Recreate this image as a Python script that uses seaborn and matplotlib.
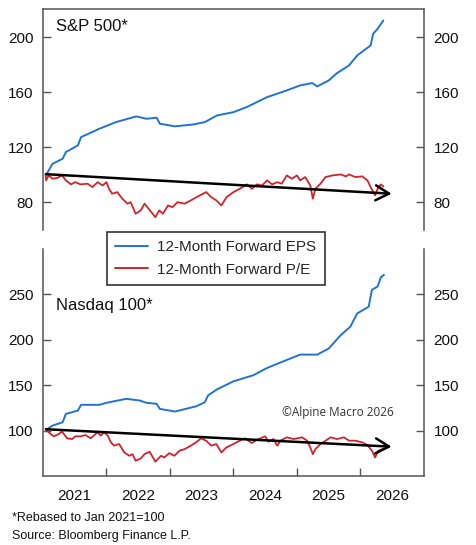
import matplotlib
matplotlib.use("Agg")
import matplotlib.pyplot as plt
from matplotlib.lines import Line2D
import seaborn as sns
import pandas as pd

sns.set_theme(style="white")
plt.rcParams["font.family"] = ["Liberation Sans", "DejaVu Sans"]

BLUE = "#1f74d2"
RED = "#d1232a"
SPINE = "#555555"

years = [2021, 2022, 2023, 2024, 2025, 2026]

# S&P 500, rebased to Jan 2021 = 100 (time in decimal years)
spx_eps_t = [2021.05, 2021.15, 2021.31, 2021.36, 2021.55, 2021.60, 2021.89, 2022.15, 2022.47, 2022.63,
             2022.79, 2022.84, 2023.08, 2023.37, 2023.55, 2023.74, 2024.00, 2024.21, 2024.53, 2024.84,
             2025.05, 2025.24, 2025.32, 2025.50, 2025.63, 2025.82, 2025.95, 2026.16, 2026.20, 2026.27,
             2026.36]
spx_eps = [100, 108, 111.7, 116.5, 121.4, 127.4, 133.5, 138.3, 142.4, 140.7,
           141.5, 137.1, 135.2, 136.6, 138.3, 143.1, 145.5, 149.2, 156.4, 161.3,
           164.9, 166.6, 164.2, 168.5, 173.8, 179.4, 186.7, 193.9, 202.4, 206,
           212]

spx_pe_t = [2021.04, 2021.05, 2021.09, 2021.15, 2021.22, 2021.30, 2021.36, 2021.44, 2021.51, 2021.59,
            2021.70, 2021.78, 2021.86, 2021.94, 2022.00, 2022.04, 2022.09, 2022.17, 2022.25, 2022.33,
            2022.38, 2022.46, 2022.54, 2022.60, 2022.68, 2022.77, 2022.83, 2022.89, 2022.97, 2023.04,
            2023.12, 2023.23, 2023.33, 2023.47, 2023.57, 2023.65, 2023.73, 2023.81, 2023.89, 2024.00,
            2024.10, 2024.21, 2024.29, 2024.37, 2024.45, 2024.53, 2024.61, 2024.69, 2024.76, 2024.84,
            2024.92, 2025.00, 2025.05, 2025.13, 2025.21, 2025.25, 2025.29, 2025.37, 2025.45, 2025.56,
            2025.69, 2025.77, 2025.82, 2025.92, 2026.03, 2026.11, 2026.16, 2026.23, 2026.27, 2026.32,
            2026.36]
spx_pe = [100.8, 96, 99.6, 97.2, 97.7, 99.6, 96, 93.1, 94.7, 93.1,
          93.6, 91.1, 94.7, 92.3, 94.7, 89.9, 86.3, 87.5, 82.7, 79.1,
          80.2, 71.8, 74.2, 79.1, 74.5, 69.3, 74.2, 71.8, 77.8, 76.6,
          80.2, 79.1, 81.5, 85.1, 87.5, 83.8, 81.5, 77.8, 83.8, 87.5,
          89.9, 93.1, 89.9, 93.1, 92.3, 96, 93.1, 94.7, 93.6, 99.6,
          97.2, 99.6, 96, 98.4, 92.3, 82.7, 89.9, 93.6, 98.4, 99.6,
          100.3, 98.9, 100.3, 98.4, 98.9, 96, 91.1, 85.1, 89.9, 93.1,
          91.6]

# Nasdaq 100, rebased to Jan 2021 = 100
ndx_eps_t = [2021.05, 2021.15, 2021.31, 2021.36, 2021.55, 2021.60, 2021.89, 2022.00, 2022.31, 2022.52,
             2022.63, 2022.79, 2022.84, 2023.08, 2023.42, 2023.55, 2023.60, 2023.74, 2024.00, 2024.31,
             2024.53, 2024.79, 2025.05, 2025.32, 2025.50, 2025.69, 2025.84, 2025.95, 2026.13, 2026.18,
             2026.27, 2026.32, 2026.37]
ndx_eps = [101, 105.5, 109.2, 118.4, 122.1, 128.4, 128.4, 130.6, 135, 133.2,
           130.6, 129.5, 123.9, 121, 126.9, 131.3, 138.8, 145.4, 154.3, 160.9,
           169, 176.4, 183.7, 183.7, 190.4, 205.2, 214.4, 229.1, 236.5, 255,
           258.7, 268.7, 271.6]

ndx_pe_t = [2021.04, 2021.09, 2021.17, 2021.25, 2021.30, 2021.38, 2021.46, 2021.51, 2021.59, 2021.67,
            2021.75, 2021.86, 2021.91, 2021.96, 2022.02, 2022.07, 2022.12, 2022.20, 2022.28, 2022.36,
            2022.41, 2022.46, 2022.54, 2022.60, 2022.68, 2022.77, 2022.86, 2022.91, 2022.99, 2023.07,
            2023.15, 2023.23, 2023.31, 2023.41, 2023.49, 2023.57, 2023.65, 2023.73, 2023.81, 2023.89,
            2024.00, 2024.10, 2024.18, 2024.29, 2024.37, 2024.50, 2024.55, 2024.63, 2024.69, 2024.74,
            2024.84, 2024.95, 2025.08, 2025.16, 2025.21, 2025.25, 2025.29, 2025.37, 2025.45, 2025.53,
            2025.63, 2025.74, 2025.82, 2025.92, 2026.03, 2026.11, 2026.18, 2026.23, 2026.28, 2026.35]
ndx_pe = [101.8, 98.1, 93.7, 96.3, 98.9, 91.5, 90.7, 93.7, 93.7, 95.1,
          91.5, 98.1, 94.5, 98.1, 94.5, 87, 83.4, 85.2, 76, 72.3,
          74.1, 66.8, 69.3, 74.1, 76.7, 65.7, 72.3, 70.4, 75.2, 72.3,
          77.9, 79.6, 82.6, 87, 91.5, 88.9, 83.4, 85.2, 76, 81.5,
          85.2, 88.9, 91.5, 86.3, 90, 93.7, 87.8, 90.7, 83.4, 88.9,
          92.6, 90.7, 92.6, 88.9, 81.5, 74.1, 79.6, 85.2, 88.9, 92.6,
          90.7, 92.6, 88.9, 88.9, 87, 84.1, 77.9, 70.4, 77.9, 79.6]

# P/E trend arrows (start, end)
spx_trend = ((2021.05, 100.5), (2026.49, 86.3))
ndx_trend = ((2021.05, 101.5), (2026.49, 82.3))

panels = [
    dict(name="S&P 500*", eps=(spx_eps_t, spx_eps), pe=(spx_pe_t, spx_pe), trend=spx_trend,
         ylim=(60, 220), yticks=[80, 120, 160, 200], label_y=0.925),
    dict(name="Nasdaq 100*", eps=(ndx_eps_t, ndx_eps), pe=(ndx_pe_t, ndx_pe), trend=ndx_trend,
         ylim=(50, 300), yticks=[100, 150, 200, 250], label_y=0.75),
]

fig = plt.figure(figsize=(4.77, 5.45), dpi=100)
ax_top = fig.add_axes([0.0901, 0.578, 0.7987, 0.4046])
ax_bot = fig.add_axes([0.0901, 0.1266, 0.7987, 0.4165])

for ax, p in zip([ax_top, ax_bot], panels):
    eps_df = pd.DataFrame({"t": p["eps"][0], "value": p["eps"][1]})
    pe_df = pd.DataFrame({"t": p["pe"][0], "value": p["pe"][1]})
    sns.lineplot(data=eps_df, x="t", y="value", ax=ax, color=BLUE, linewidth=1.4)
    sns.lineplot(data=pe_df, x="t", y="value", ax=ax, color=RED, linewidth=1.3)

    start, end = p["trend"]
    ax.annotate("", xy=end, xytext=start,
                arrowprops=dict(arrowstyle="->,head_length=0.8,head_width=0.45",
                                color="black", lw=1.8, shrinkA=0, shrinkB=0))

    ax.set_xlim(years[0], years[-1] + 1)
    ax.set_ylim(*p["ylim"])
    ax.set_yticks(p["yticks"])
    ax.set_xlabel("")
    ax.set_ylabel("")
    ax.text(0.035, p["label_y"], p["name"], transform=ax.transAxes,
            fontsize=12, ha="left", va="center", color="#111111")

    ax.tick_params(axis="y", which="both", direction="in", length=6, width=1, color=SPINE,
                   left=True, right=True, labelleft=True, labelright=True,
                   labelsize=11, pad=7, labelcolor="#111111")
    for side in ["left", "right", "top", "bottom"]:
        ax.spines[side].set_color(SPINE)
        ax.spines[side].set_linewidth(1.1)

ax_top.spines["bottom"].set_visible(False)
ax_top.set_xticks([])
ax_bot.spines["top"].set_visible(False)

# year boundaries get tick marks, labels sit mid-year
ax_bot.set_xticks(years[1:])
ax_bot.set_xticklabels([])
ax_bot.set_xticks([y + 0.5 for y in years], [str(y) for y in years], minor=True)
ax_bot.tick_params(axis="x", which="major", direction="in", length=6, width=1, color=SPINE, bottom=True)
ax_bot.tick_params(axis="x", which="minor", length=0, labelsize=11, pad=9, labelcolor="#111111")

ax_bot.text(0.92, 0.28, "\u00a9Alpine Macro 2026", transform=ax_bot.transAxes,
            fontsize=8.5, ha="right", va="center", color="#333333", family=["Open Sans", "DejaVu Sans"])

handles = [Line2D([], [], color=BLUE, lw=1.4), Line2D([], [], color=RED, lw=1.4)]
leg = fig.legend(handles, ["12-Month Forward EPS", "12-Month Forward P/E"],
                 loc="upper left", bbox_to_anchor=(107 / 477, 1 - 232 / 545),
                 borderaxespad=0, fontsize=11, frameon=True, fancybox=False,
                 edgecolor="#222222", framealpha=1, borderpad=0.55,
                 handlelength=2.15, handletextpad=0.6, labelspacing=0.55)
leg.get_frame().set_linewidth(1.1)

fig.text(12 / 477, 1 - 518 / 545, "*Rebased to Jan 2021=100", fontsize=9, va="center", color="#111111")
fig.text(12 / 477, 1 - 536 / 545, "Source: Bloomberg Finance L.P.", fontsize=9, va="center", color="#111111")

fig.savefig("out.png", dpi=100)
